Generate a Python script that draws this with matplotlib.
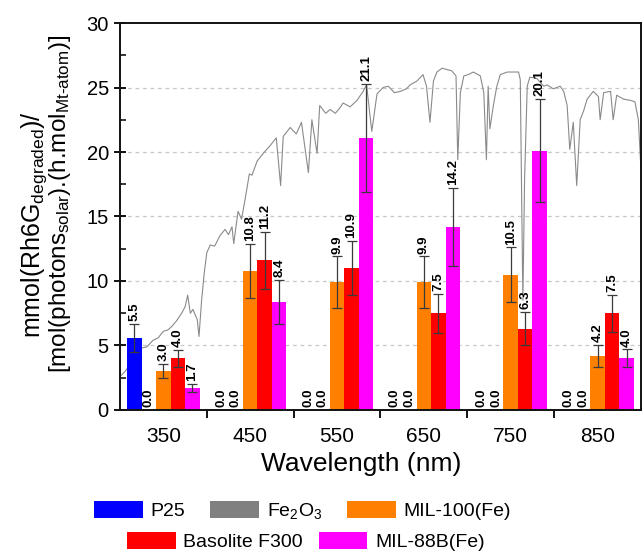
import matplotlib
matplotlib.use('Agg')
import matplotlib.pyplot as plt
from matplotlib.patches import Patch
from matplotlib.ticker import MultipleLocator, FixedLocator

plt.rcParams['font.family'] = ['Liberation Sans', 'DejaVu Sans']
plt.rcParams['mathtext.fontset'] = 'custom'
plt.rcParams['mathtext.rm'] = 'Liberation Sans'
plt.rcParams['mathtext.it'] = 'Liberation Sans:italic'
plt.rcParams['mathtext.bf'] = 'Liberation Sans:bold'

# ---------------- data ----------------
wavelengths = [350, 450, 550, 650, 750, 850]
series_names = ['P25', 'Fe$_2$O$_3$', 'MIL-100(Fe)', 'Basolite F300', 'MIL-88B(Fe)']

p25 = [5.6, 0, 0, 0, 0, 0]
fe2o3 = [0, 0, 0, 0, 0, 0]
mil100 = [3.0, 10.8, 9.9, 9.9, 10.5, 4.2]
basolite = [4.0, 11.6, 11.0, 7.5, 6.3, 7.5]
mil88b = [1.7, 8.4, 21.1, 14.2, 20.1, 4.0]

p25_err = [1.1, 0, 0, 0, 0, 0]
fe2o3_err = [0, 0, 0, 0, 0, 0]
mil100_err = [0.55, 2.1, 2.0, 2.0, 2.1, 0.85]
basolite_err = [0.65, 2.2, 2.1, 1.5, 1.3, 1.45]
mil88b_err = [0.3, 1.7, 4.2, 3.0, 4.0, 0.7]

p25_lbl = ['5.5', '0.0', '0.0', '0.0', '0.0', '0.0']
fe2o3_lbl = ['0.0', '0.0', '0.0', '0.0', '0.0', '0.0']
mil100_lbl = ['3.0', '10.8', '9.9', '9.9', '10.5', '4.2']
basolite_lbl = ['4.0', '11.2', '10.9', '7.5', '6.3', '7.5']
mil88b_lbl = ['1.7', '8.4', '21.1', '14.2', '20.1', '4.0']

# solar spectrum (scaled to left axis units)
spec_nm = [300, 306, 312, 318, 325, 331, 338, 344, 350, 355, 360, 365, 371, 375, 378,
           381, 384, 389, 391, 394, 397, 400, 404, 409, 415, 421, 425, 429, 431, 436,
           440, 444, 449, 452, 458, 465, 473, 480, 485, 488, 496, 503, 509, 517, 521,
           527, 530, 537, 542, 548, 553, 557, 565, 573, 580, 584, 590, 596, 603, 609,
           616, 623, 630, 634, 642, 649, 653, 657, 661, 665, 671, 676, 682, 687, 689,
           692, 696, 701, 707, 715, 719, 722, 724, 726, 730, 734, 738, 746, 753, 759,
           761, 764, 766, 769, 772, 780, 788, 792, 799, 807, 811, 815, 818, 822, 826,
           830, 834, 838, 845, 851, 853, 857, 865, 868, 872, 880, 888, 893, 897, 900]
spec_val = [2.6, 3.0, 3.6, 4.1, 4.8, 4.9, 5.4, 5.6, 6.1, 6.2, 6.5, 6.9, 7.5, 8.0, 8.9,
            7.5, 7.8, 7.0, 5.7, 8.5, 10.6, 12.2, 12.8, 12.7, 13.5, 14.0, 13.6, 14.2, 12.9, 15.4,
            14.8, 16.3, 18.3, 18.2, 19.3, 19.9, 20.5, 21.1, 17.4, 21.2, 21.9, 21.4, 22.3, 18.4, 22.5,
            19.9, 23.6, 23.0, 23.3, 23.0, 23.4, 23.8, 23.5, 24.0, 24.7, 25.2, 21.6, 24.5, 25.0, 25.1,
            24.6, 24.7, 24.9, 25.2, 25.5, 26.0, 25.1, 22.3, 25.5, 26.2, 26.5, 26.4, 26.3, 25.9, 19.4,
            24.6, 25.9, 26.0, 26.2, 25.9, 24.6, 19.4, 25.1, 21.8, 23.6, 25.1, 26.0, 26.2, 26.2, 26.2,
            25.6, 8.5, 18.0, 25.1, 25.8, 25.7, 25.1, 25.2, 24.9, 25.1, 24.7, 23.6, 20.2, 22.3, 17.4,
            22.5, 23.2, 24.1, 24.7, 24.3, 22.5, 24.6, 24.7, 22.5, 24.4, 24.1, 24.0, 23.9, 22.5, 18.6]

colors = ['#0000ff', '#808080', '#ff8000', '#ff0000', '#ff00ff']

# ---------------- figure ----------------
fig = plt.figure(figsize=(6.44, 5.53), dpi=100)
ax = fig.add_axes([0.1863, 0.2586, 0.8090, 0.6998])

ax.plot(spec_nm, spec_val, color='#8a8a8a', lw=0.8, zorder=1)

values = [p25, fe2o3, mil100, basolite, mil88b]
errs = [p25_err, fe2o3_err, mil100_err, basolite_err, mil88b_err]
lbls = [p25_lbl, fe2o3_lbl, mil100_lbl, basolite_lbl, mil88b_lbl]
width = 16.7
for i, (vals, er, lb, col) in enumerate(zip(values, errs, lbls, colors)):
    xs = [w + (i - 2) * width for w in wavelengths]
    ax.bar(xs, vals, width=width, color=col, zorder=2, linewidth=0)
    for x, v, e, t in zip(xs, vals, er, lb):
        if e > 0:
            ax.errorbar(x, v, yerr=e, fmt='none', ecolor='#3a3a3a', elinewidth=0.9,
                        capsize=3.5, capthick=0.9, zorder=3)
        ax.annotate(t, (x, v + e), xytext=(0, 2), textcoords='offset points',
                    rotation=90, ha='center', va='bottom', fontsize=9.5,
                    fontweight='bold', zorder=4)

ax.set_xlim(300, 900)
ax.set_ylim(0, 30)
ax.yaxis.set_major_locator(MultipleLocator(5))
ax.yaxis.set_minor_locator(MultipleLocator(2.5))
ax.xaxis.set_major_locator(FixedLocator([400, 500, 600, 700, 800]))
ax.xaxis.set_major_formatter(plt.NullFormatter())
ax.set_xticks(wavelengths, [str(w) for w in wavelengths], minor=True)
ax.tick_params(axis='x', which='major', direction='out', length=6, width=1.3)
ax.tick_params(axis='x', which='minor', length=0, labelsize=15, pad=12)
ax.tick_params(axis='y', which='major', direction='inout', length=9, width=1.3, labelsize=14.5)
ax.tick_params(axis='y', which='minor', direction='in', length=4, width=1.1)

for y in [5, 10, 15, 20, 25]:
    ax.axhline(y, color='#c8c8c8', lw=0.9, ls=(0, (3, 3)), zorder=0)

for s in ax.spines.values():
    s.set_linewidth(1.4)
    s.set_color('#111111')

ax.set_xlabel('Wavelength (nm)', fontsize=19)
ax.xaxis.set_label_coords(0.4626, -0.108)

# two-line y label drawn as two texts
fig.text(34 / 644, 1 - 225 / 553, 'mmol(Rh6G$_{\\mathrm{degraded}}$)/',
         rotation=90, ha='center', va='center', fontsize=18)
fig.text(60 / 644, 1 - 204 / 553,
         '[mol(photons$_{\\mathrm{solar}}$).(h.mol$_{\\text{Mt-atom}}$)]',
         rotation=90, ha='center', va='center', fontsize=17.5)

handles = [Patch(facecolor=c, edgecolor='none') for c in colors]
leg1 = fig.legend(handles[:3], series_names[:3], loc='center', bbox_to_anchor=(0.47, 0.076),
                  ncol=3, frameon=False, fontsize=14, handlelength=2.5, handleheight=0.95,
                  columnspacing=1.3, handletextpad=0.4)
leg2 = fig.legend(handles[3:], series_names[3:], loc='center', bbox_to_anchor=(0.475, 0.020),
                  ncol=2, frameon=False, fontsize=14, handlelength=2.5, handleheight=0.95,
                  columnspacing=0.8, handletextpad=0.4)

fig.savefig('out.png', dpi=100)
